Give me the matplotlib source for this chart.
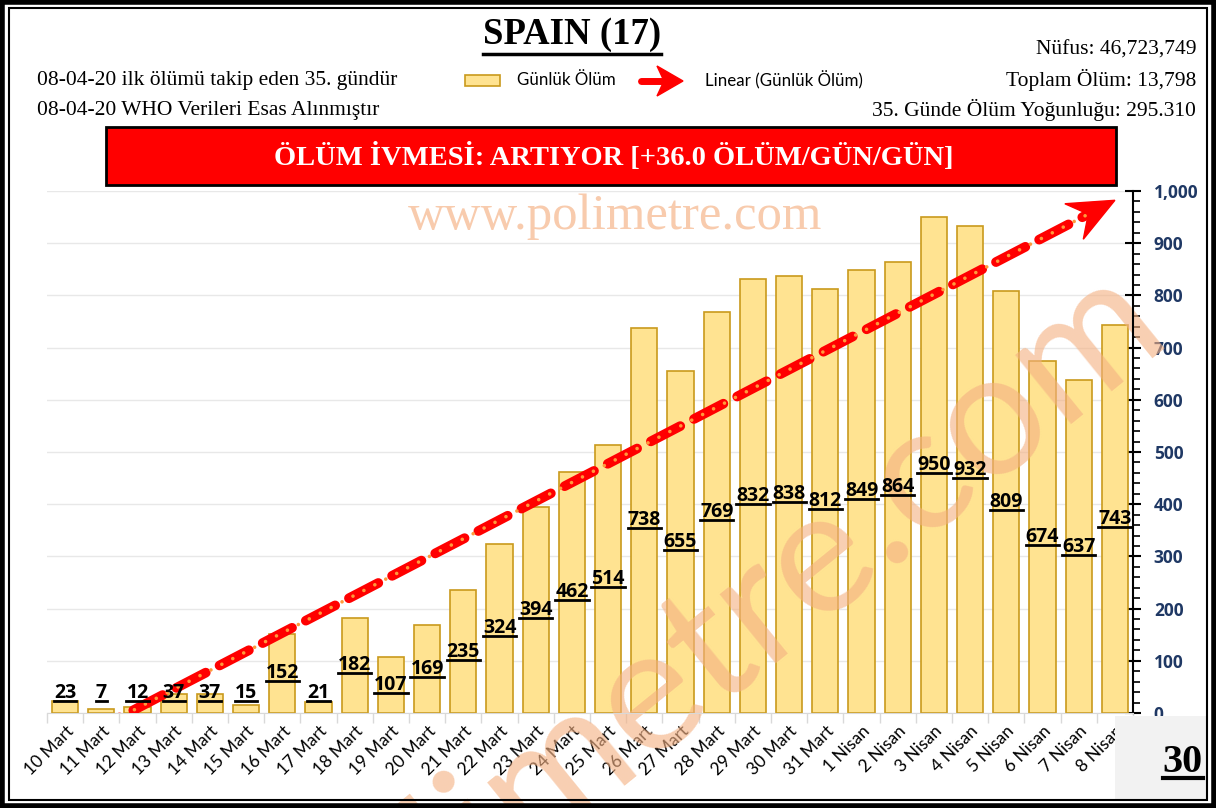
import numpy as np
import matplotlib.pyplot as plt
from matplotlib.patches import Rectangle, Polygon
from matplotlib.lines import Line2D
from matplotlib.ticker import MultipleLocator

days = ['10 Mart', '11 Mart', '12 Mart', '13 Mart', '14 Mart', '15 Mart', '16 Mart',
        '17 Mart', '18 Mart', '19 Mart', '20 Mart', '21 Mart', '22 Mart', '23 Mart',
        '24 Mart', '25 Mart', '26 Mart', '27 Mart', '28 Mart', '29 Mart', '30 Mart',
        '31 Mart', '1 Nisan', '2 Nisan', '3 Nisan', '4 Nisan', '5 Nisan', '6 Nisan',
        '7 Nisan', '8 Nisan']
deaths = [23, 7, 12, 37, 37, 15, 152, 21, 182, 107, 169, 235, 324, 394, 462, 514,
          738, 655, 769, 832, 838, 812, 849, 864, 950, 932, 809, 674, 637, 743]
yticks = list(range(0, 1001, 100))

W, H = 1216, 808
SERIF = 'Liberation Serif'
SANS = 'Lato'
BOLD = 'Open Sans'


def px(x, y):
    return x / W, 1 - y / H


fig = plt.figure(figsize=(W / 100, H / 100), dpi=100)
ax = fig.add_axes([47 / W, 1 - 713 / H, (1133 - 47) / W, (713 - 191) / H])

x = np.arange(len(deaths))
ax.bar(x, deaths, width=0.72, color='#ffe391', edgecolor='#c99a1c', linewidth=1.2, zorder=2)

ax.set_xlim(-0.5, len(deaths) - 0.5)
ax.set_ylim(0, 1000)

# linear trend (Excel style)
k, b = np.polyfit(x + 1, deaths, 1)
xt = np.linspace(-0.5, 28.6, 200)
yt = k * (xt + 1) + b
ax.plot(xt, yt, color='red', lw=7, dashes=(3.4, 1.6), zorder=4, dash_capstyle='round')
ax.plot(xt, yt, color='#ff9a3c', lw=2.6, dashes=(0.01, 3.4), zorder=4.5, dash_capstyle='round')

# stealth arrow head at the end of the trend
tip = ax.transData.transform((29, k * 30 + b))
back = ax.transData.transform((28, k * 29 + b))
u = (tip - back) / np.hypot(*(tip - back))
n = np.array([-u[1], u[0]])
head = [tip, tip - 46 * u + 20 * n, tip - 30 * u, tip - 46 * u - 20 * n]
ax.add_patch(Polygon(head, closed=True, transform=None, color='red', zorder=5, clip_on=False))

ax.yaxis.tick_right()
ax.set_yticks(yticks)
ax.set_yticklabels([f'{v:,}' for v in yticks], family=BOLD, fontweight='bold', fontsize=12.5,
                   color='#1f3864')
ax.yaxis.set_minor_locator(MultipleLocator(20))
ax.tick_params(axis='y', which='major', direction='inout', length=12, width=1.5, pad=9)
ax.tick_params(axis='y', which='minor', direction='out', length=5, width=1.2)

ax.set_xticks(x)
ax.set_xticklabels(days, rotation=45, ha='right', rotation_mode='anchor', family=SANS, fontsize=12.5)
ax.set_xticks(np.arange(-0.5, len(deaths)), minor=True)
ax.tick_params(axis='x', which='major', length=0, pad=7)
ax.tick_params(axis='x', which='minor', length=7, color='#d9d9d9', width=1)

ax.grid(axis='y', color='#e8e8e8', lw=1, zorder=0)
ax.set_axisbelow(True)
for s in ['top', 'left']:
    ax.spines[s].set_visible(False)
ax.spines['bottom'].set_color('#d9d9d9')
ax.spines['right'].set_linewidth(1.5)

bar_labels = []
for i, v in enumerate(deaths):
    t = ax.text(i, max(v / 2, 38), str(v), ha='center', va='center', family=BOLD,
                fontsize=14, fontweight='bold', zorder=6)
    bar_labels.append(t)

# watermarks
ax.text(*px(615, 217), 'www.polimetre.com', transform=fig.transFigure, ha='center', va='center',
        family=SERIF, fontsize=36.5, color='#f8cbad', zorder=1)
ax.text(*px(712, 642), 'polimetre.com', transform=fig.transFigure, ha='center', va='center',
        family=SANS, fontsize=126, color='#f4b183', alpha=0.62, rotation=39,
        rotation_mode='anchor', zorder=2.2, clip_on=False)

# header
title = fig.text(*px(572, 35), 'SPAIN (17)', ha='center', va='center', family=SERIF,
                 fontsize=26.5, fontweight='bold')
fig.text(*px(37, 80), '08-04-20 ilk ölümü takip eden 35. gündür', ha='left', va='center',
         family=SERIF, fontsize=15.5)
fig.text(*px(37, 110), '08-04-20 WHO Verileri Esas Alınmıştır', ha='left', va='center',
         family=SERIF, fontsize=15.5)
fig.text(*px(1196, 50), 'Nüfus: 46,723,749', ha='right', va='center', family=SERIF, fontsize=15.5)
fig.text(*px(1196, 80), 'Toplam Ölüm: 13,798', ha='right', va='center', family=SERIF, fontsize=15.5)
fig.text(*px(1196, 110), '35. Günde Ölüm Yoğunluğu: 295.310', ha='right', va='center',
         family=SERIF, fontsize=15.5)

# legend
fig.add_artist(Rectangle(px(465, 86), 35 / W, 11 / H, transform=fig.transFigure,
                         facecolor='#ffe391', edgecolor='#c99a1c', lw=1.2))
fig.text(*px(517, 80), 'Günlük Ölüm', ha='left', va='center', family=SANS, fontsize=12.2)
fig.add_artist(Line2D([px(641, 0)[0], px(662, 0)[0]], [px(0, 81)[1]] * 2, transform=fig.transFigure,
                      color='red', lw=5, solid_capstyle='round'))
fig.add_artist(Polygon([px(683, 81), px(657, 66), px(664, 81), px(657, 96)], closed=True,
                       transform=fig.transFigure, color='red'))
fig.text(*px(705, 80), 'Linear (Günlük Ölüm)', ha='left', va='center', family=SANS, fontsize=12.2)

# red banner
fig.add_artist(Rectangle(px(106, 185), (1116 - 106) / W, (185 - 127) / H, transform=fig.transFigure,
                         facecolor='red', edgecolor='black', lw=2))
fig.text(*px(614, 157), 'ÖLÜM İVMESİ: ARTIYOR [+36.0 ÖLÜM/GÜN/GÜN]', ha='center', va='center',
         family=SERIF, fontsize=20.5, fontweight='bold', color='white')

# page number box
fig.add_artist(Rectangle(px(1115, 801), (1207 - 1115) / W, (801 - 716) / H, transform=fig.transFigure,
                         facecolor='#f2f2f2', edgecolor='none', zorder=0.5))
num = fig.text(*px(1203, 763), '30', ha='right', va='center', family=SERIF, fontsize=29,
               fontweight='bold')

# double frame
fig.add_artist(Rectangle((0.0015, 0.002), 0.997, 0.996, transform=fig.transFigure, fill=False,
                         edgecolor='black', lw=4))
fig.add_artist(Rectangle(px(9, 800), (1207 - 9) / W, (800 - 8) / H, transform=fig.transFigure,
                         fill=False, edgecolor='black', lw=1.5))

# underlines
fig.canvas.draw()
r = fig.canvas.get_renderer()
inv = fig.transFigure.inverted()


def underline(t, lw, below_baseline=None):
    bb = t.get_window_extent(r)
    if below_baseline is None:
        y = bb.y0 - 1
    else:
        _, _, d = r.get_text_width_height_descent('lp', t.get_fontproperties(), ismath=False)
        y = bb.y0 + d - below_baseline
    (x0, y0), (x1, _) = inv.transform([(bb.x0, y), (bb.x1, y)])
    fig.add_artist(Line2D([x0, x1], [y0, y0], transform=fig.transFigure, color='black', lw=lw,
                          zorder=7))


for t in bar_labels:
    underline(t, 2, below_baseline=3)
underline(title, 2.5)
underline(num, 3, below_baseline=5)

fig.savefig('out.png', dpi=100)
